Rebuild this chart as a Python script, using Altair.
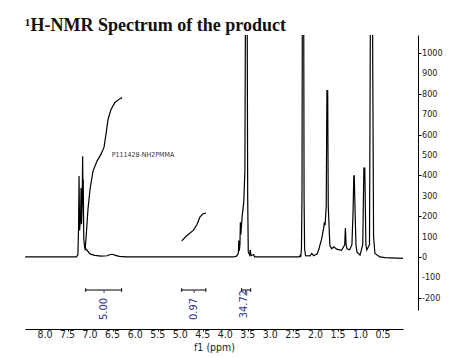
import altair as alt
import pandas as pd

# ---- spectrum trace (ppm, intensity) ----
spec_ppm = [8.44, 7.30, 7.27, 7.255, 7.245, 7.232, 7.21, 7.20, 7.19, 7.175, 7.165, 7.158, 7.152, 7.14, 7.12,
            7.09, 7.05, 7.00, 6.90, 6.75, 6.62, 6.55, 6.50, 6.44, 6.35, 6.20,
            3.82, 3.75, 3.71, 3.70, 3.69, 3.675, 3.665, 3.655, 3.625, 3.59, 3.565, 3.548, 3.518, 3.503,
            3.49, 3.46, 3.445, 3.43, 3.37, 3.35,
            2.36, 2.34, 2.325, 2.31, 2.298, 2.288, 2.262, 2.252, 2.24, 2.22, 2.12, 2.08, 2.04,
            1.96, 1.92, 1.90, 1.86, 1.82, 1.80, 1.785, 1.76, 1.745, 1.728, 1.715, 1.68, 1.64, 1.59,
            1.53, 1.42, 1.35, 1.335, 1.32, 1.30, 1.24, 1.19, 1.165, 1.148, 1.138, 1.12, 1.10, 1.08,
            1.01, 0.95, 0.925, 0.905, 0.88, 0.86, 0.80, 0.775, 0.74, 0.71, 0.68, 0.57, 0.46, 0.056]
spec_val = [0, 0, 12, 150, 397, 130, 200, 338, 160, 260, 494, 300, 380, 90, 45,
            38, 28, 15, 8, 4, 6, 12, 13, 8, 3, 0,
            0, 4, 18, 80, 30, 60, 170, 110, 200, 270, 420, 1500, 1500, 300,
            25, 10, 35, 6, 12, 0,
            0, 8, 0, 40, 300, 1500, 1500, 300, 40, 6, 5, 17, 6,
            15, 40, 58, 90, 139, 170, 156, 250, 815, 815, 250, 57, 40, 50,
            38, 33, 60, 142, 60, 40, 35, 60, 221, 398, 398, 221, 60, 25,
            9, 60, 435, 435, 60, 35, 60, 1500, 1500, 100, 17, 0, -3, -7]

# ---- integral curves ----
int1_ppm = [7.112, 7.09, 7.068, 7.046, 7.00, 6.935, 6.846, 6.757, 6.69, 6.647, 6.602, 6.536, 6.447, 6.336, 6.29]
int1_val = [32, 90, 163, 236, 333, 421, 470, 504, 538, 601, 674, 723, 757, 776, 781]
int2_ppm = [4.967, 4.85, 4.71, 4.63, 4.56, 4.49, 4.43]
int2_val = [79, 105, 130, 158, 197, 212, 215]

# ---- integration brackets ----
br_start = [7.097, 4.967, 3.636]
br_end = [6.30, 4.43, 3.437]
br_mid = [6.69, 4.69, 3.55]
br_label = ["5.00", "0.97", "34.72"]
br_label_ppm = [6.69, 4.69, 3.59]
br_label_val = [-255, -255, -231]
br_level = -162

# ---- axes ----
x_ticks = [8.0, 7.5, 7.0, 6.5, 6.0, 5.5, 5.0, 4.5, 4.0, 3.5, 3.0, 2.5, 2.0, 1.5, 1.0, 0.5]
x_tick_labels = ["8.0", "7.5", "7.0", "6.5", "6.0", "5.5", "5.0", "4.5", "4.0", "3.5", "3.0", "2.5",
                 "2.0", "1.5", "1.0", "0.5"]
y_ticks = [-200, -100, 0, 100, 200, 300, 400, 500, 600, 700, 800, 900, 1000]
y_tick_labels = ["-200", "-100", "0", "100", "200", "300", "400", "500", "600", "700", "800", "900", "1000"]

NARROW = "Liberation Sans Narrow, DejaVu Sans Condensed, Arial Narrow, sans-serif"
NAVY = "#2b2f86"
W, H = 378, 275

xs = alt.Scale(domain=[0.0568, 8.4438], reverse=True, nice=False, zero=False)
ys = alt.Scale(domain=[-260, 1088], nice=False, zero=False)

spec_df = pd.DataFrame({"ppm": spec_ppm, "val": spec_val, "i": range(len(spec_ppm))})
int_df = pd.DataFrame({
    "ppm": int1_ppm + int2_ppm,
    "val": int1_val + int2_val,
    "curve": ["a"] * len(int1_ppm) + ["b"] * len(int2_ppm),
    "i": list(range(len(int1_ppm))) + list(range(len(int2_ppm))),
})

spectrum = alt.Chart(spec_df).mark_line(color="black", strokeWidth=1.2, clip=True).encode(
    x=alt.X("ppm:Q", scale=xs,
            axis=alt.Axis(values=x_ticks, labels=False, title="f1 (ppm)", orient="bottom", offset=19,
                          grid=False, domainColor="black", domainWidth=1.2, tickColor="black", tickSize=2,
                          titleFont=NARROW, titleFontSize=10.5, titleFontWeight="normal", titleColor="#222",
                          titleY=18, titleBaseline="middle")),
    y=alt.Y("val:Q", scale=ys,
            axis=alt.Axis(values=y_ticks, labels=False, title=None, orient="right", offset=15, grid=False,
                          domainColor="black", tickColor="black", tickSize=3)),
    order="i:Q",
)

# tick labels drawn as text so every one of them is kept
xlab_df = pd.DataFrame({"p": x_ticks, "t": x_tick_labels})
xlabels = alt.Chart(xlab_df).mark_text(font=NARROW, fontSize=10.5, color="#222", baseline="middle",
                                       align="center").encode(
    x=alt.X("p:Q", scale=xs), y=alt.value(H + 25), text="t:N"
)
ylab_df = pd.DataFrame({"v": y_ticks, "t": y_tick_labels})
ylabels = alt.Chart(ylab_df).mark_text(font=NARROW, fontSize=9, color="#222", baseline="middle",
                                       align="left").encode(
    x=alt.value(W + 19), y=alt.Y("v:Q", scale=ys), text="t:N"
)

integrals = alt.Chart(int_df).mark_line(color="black", strokeWidth=1.2).encode(
    x=alt.X("ppm:Q", scale=xs), y=alt.Y("val:Q", scale=ys), detail="curve:N", order="i:Q"
)

br_df = pd.DataFrame({"s": br_start, "e": br_end, "m": br_mid, "lv": [br_level] * 3})
hbar = alt.Chart(br_df).mark_rule(color="black", strokeWidth=1).encode(
    x=alt.X("s:Q", scale=xs), x2="e:Q", y=alt.Y("lv:Q", scale=ys)
)
ends_df = pd.DataFrame({"p": br_start + br_end, "y1": [br_level + 9] * 6, "y2": [br_level - 9] * 6})
ends = alt.Chart(ends_df).mark_rule(color="black", strokeWidth=1).encode(
    x=alt.X("p:Q", scale=xs), y=alt.Y("y1:Q", scale=ys), y2="y2:Q"
)
mid_df = pd.DataFrame({"p": br_mid, "y1": [br_level] * 3, "y2": [br_level - 14] * 3})
mids = alt.Chart(mid_df).mark_rule(color=NAVY, strokeWidth=1).encode(
    x=alt.X("p:Q", scale=xs), y=alt.Y("y1:Q", scale=ys), y2="y2:Q"
)
lab_df = pd.DataFrame({"p": br_label_ppm, "v": br_label_val, "t": br_label})
labels = alt.Chart(lab_df).mark_text(angle=270, color=NAVY, font=NARROW, fontSize=11,
                                     align="center", baseline="middle").encode(
    x=alt.X("p:Q", scale=xs), y=alt.Y("v:Q", scale=ys), text="t:N"
)

note_df = pd.DataFrame({"p": [6.52], "v": [501], "t": ["P111428-NH2PMMA"]})
note = alt.Chart(note_df).mark_text(align="left", baseline="middle", font=NARROW, fontSize=7,
                                    color="#333").encode(
    x=alt.X("p:Q", scale=xs), y=alt.Y("v:Q", scale=ys), text="t:N"
)

chart = alt.layer(spectrum, integrals, hbar, ends, mids, labels, note, xlabels, ylabels).properties(
    width=W, height=H,
    title=alt.TitleParams("¹H-NMR Spectrum of the product", anchor="start", font="Liberation Serif",
                          fontSize=18, fontWeight="bold", color="#111", offset=0),
    padding={"left": 17, "top": 9, "right": 0, "bottom": 0},
).configure_view(stroke=None)

chart.save("out.html", embed_options={"renderer": "svg", "actions": False})
